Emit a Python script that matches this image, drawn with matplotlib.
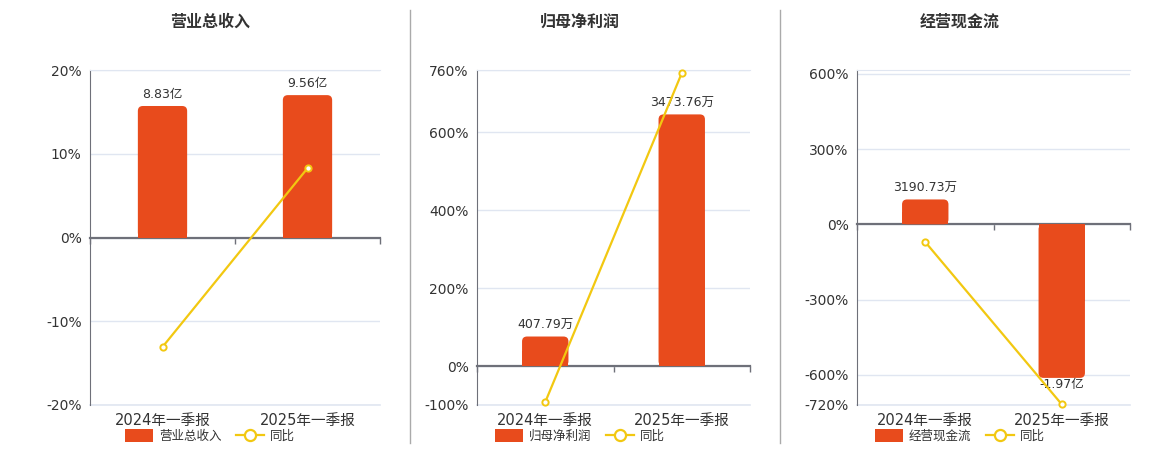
import matplotlib
matplotlib.use('Agg')
import matplotlib.pyplot as plt
from matplotlib.patches import FancyBboxPatch, Rectangle, Patch
from matplotlib.lines import Line2D

plt.rcParams['font.family'] = ['DejaVu Sans', 'Noto Sans CJK SC']

categories = ['2024年一季报', '2025年一季报']

titles = ['营业总收入', '归母净利润', '经营现金流']
bar_names = ['营业总收入', '归母净利润', '经营现金流']

# bar values (units: 亿, 万, 亿)
revenue = [8.83, 9.56]
profit = [407.79, 3473.76]
cashflow = [0.319073, -1.97]
bar_labels = [['8.83亿', '9.56亿'],
              ['407.79万', '3473.76万'],
              ['3190.73万', '-1.97亿']]

# 同比 (%)
revenue_yoy = [-13.07, 8.27]
profit_yoy = [-92.5, 751.9]
cashflow_yoy = [-70.5, -717.4]

yticks = [[-20, -10, 0, 10, 20],
          [-100, 0, 200, 400, 600, 760],
          [-720, -600, -300, 0, 300, 600]]
ylims = [(-20, 20), (-100, 760), (-720, 615)]

BAR = '#E84B1C'
LINE = '#F2C811'
TXT = '#333333'
AX = '#6E7079'
GRID = '#E0E6F1'

W, H = 1160, 450
fig = plt.figure(figsize=(W / 100, H / 100), dpi=100)

boxes = [(90, 290), (477, 273), (857, 273)]
centers = [210, 580, 960]
bars_all = [revenue, profit, cashflow]
yoy_all = [revenue_yoy, profit_yoy, cashflow_yoy]

for k in range(3):
    left, width = boxes[k]
    ax = fig.add_axes([left / W, 45 / H, width / W, 335 / H])
    lo, hi = ylims[k]
    ax.set_ylim(lo, hi)
    ax.set_xlim(-0.5, 1.5)
    ax.set_yticks(yticks[k])
    ax.set_yticklabels([f'{t}%' for t in yticks[k]])
    ax.tick_params(axis='y', length=0, pad=6, labelsize=10, labelcolor=TXT)
    ax.grid(axis='y', color=GRID, lw=1)
    ax.axhline(lo, color=GRID, lw=1.2, clip_on=False, zorder=0)
    ax.set_axisbelow(True)
    ax.spines['right'].set_visible(False)
    ax.spines['top'].set_color(GRID)
    ax.spines['left'].set_color(AX)
    ax.spines['bottom'].set_position(('data', 0))
    ax.spines['bottom'].set_color(AX)
    ax.spines['bottom'].set_linewidth(1.6)
    ax.set_xticks([-0.5, 0.5, 1.5])
    ax.set_xticklabels([])
    ax.tick_params(axis='x', length=4, color=AX, width=1)
    for i, c in enumerate(categories):
        ax.annotate(c, xy=(i, 0), xycoords=('data', 'axes fraction'),
                    xytext=(0, -11), textcoords='offset points',
                    ha='center', va='center', fontsize=10.5, color=TXT)

    # bar axis, zero aligned with percentage axis
    vals = bars_all[k]
    axb = ax.twinx()
    big = max(vals, key=abs)
    if big >= 0:
        unit = big / 0.85 / hi
    else:
        unit = big / 0.85 / lo
    axb.set_ylim(lo * unit, hi * unit)
    axb.set_xlim(-0.5, 1.5)
    axb.axis('off')
    rects = axb.bar(range(len(vals)), vals, width=0.34, color=BAR)
    xpp = 2.0 / width
    ypp = (hi - lo) * unit / 335
    r = 5 * xpp
    for rect in rects:
        rect.set_visible(False)
        x0, w, h = rect.get_x(), rect.get_width(), rect.get_height()
        y0 = min(0, h)
        axb.add_patch(FancyBboxPatch((x0, y0), w, abs(h),
                                     boxstyle=f'round,pad=0,rounding_size={r}',
                                     mutation_aspect=ypp / xpp,
                                     fc=BAR, ec='none'))
        axb.add_patch(Rectangle((x0, 0), w, h / 2, fc=BAR, ec='none'))
    for i, v in enumerate(vals):
        if v >= 0:
            axb.annotate(bar_labels[k][i], xy=(i, v), xytext=(0, 3.5),
                         textcoords='offset points', ha='center', va='bottom',
                         fontsize=9, color=TXT)
        else:
            axb.annotate(bar_labels[k][i], xy=(i, v), xytext=(0, 0),
                         textcoords='offset points', ha='center', va='top',
                         fontsize=9, color=TXT)

    # line axis
    axl = ax.twinx()
    axl.set_ylim(lo, hi)
    axl.set_xlim(-0.5, 1.5)
    axl.axis('off')
    axl.plot(range(len(yoy_all[k])), yoy_all[k], color=LINE, lw=1.6,
             marker='o', ms=4.5, mfc='white', mec=LINE, mew=1.4,
             clip_on=False)

    fig.text(centers[k] / W, 1 - 22 / H, titles[k], ha='center', va='center',
             fontsize=11.5, fontweight='bold', color=TXT)
    handles = [Patch(fc=BAR, ec='none'),
               Line2D([], [], color=LINE, lw=1.6, marker='o', ms=8,
                      mfc='white', mec=LINE, mew=1.6)]
    fig.legend(handles, [bar_names[k], '同比'], loc='center',
               bbox_to_anchor=(centers[k] / W, 1 - 436 / H), ncol=2,
               frameon=False, fontsize=9, handlelength=2.2,
               handleheight=1.2, columnspacing=1.2, handletextpad=0.5,
               labelcolor=TXT)

for xs in [410, 780]:
    fig.add_artist(Line2D([xs / W, xs / W], [1 - 10 / H, 1 - 443 / H],
                          color='#AAAAAA', lw=1))

fig.savefig('out.png', dpi=100)
